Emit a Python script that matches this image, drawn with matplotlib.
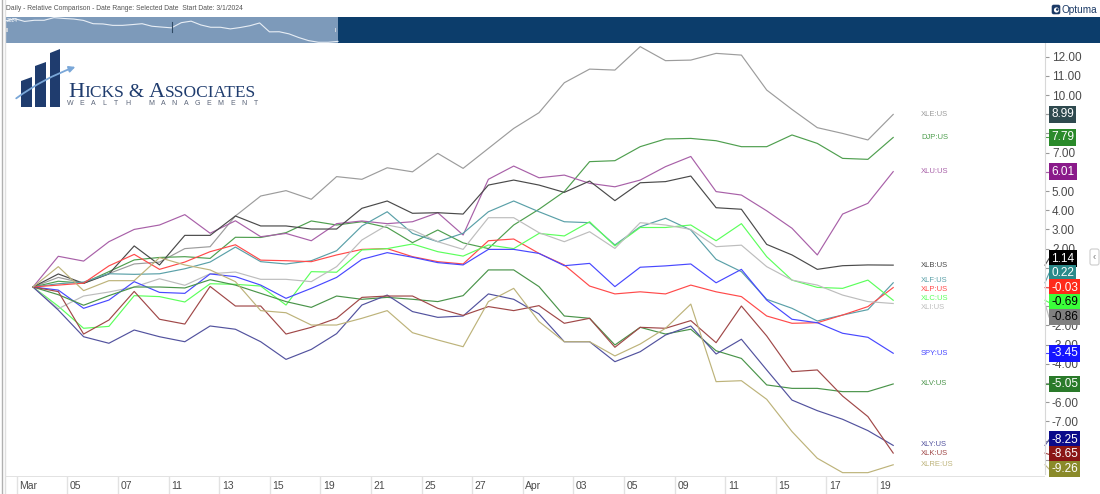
import numpy as np
import pandas as pd
import matplotlib
matplotlib.use('Agg')
import matplotlib.pyplot as plt
from matplotlib.patches import Rectangle, Polygon, Circle, FancyBboxPatch
from matplotlib.transforms import blended_transform_factory

plt.rcParams['font.family'] = ['Liberation Sans', 'DejaVu Sans']

#%% data: % change since 3/1/2024, one value per trading day (Good Friday closed)
dates = pd.bdate_range('2024-03-01', '2024-04-19').drop(pd.Timestamp('2024-03-29'))
x_labels = ['Mar', '05', '07', '11', '13', '15', '19', '21', '25', '27',
            'Apr', '03', '05', '09', '11', '15', '17', '19']

tickers = ['XLE', 'DJP', 'XLU', 'XLB', 'XLF', 'XLP', 'XLC', 'XLI', 'SPY', 'XLV', 'XLY', 'XLK', 'XLRE']

xle = [0, 0.5, 0.2, 0.7, 1.2, 1.3, 2.0, 2.1, 3.7, 4.74, 5.02, 4.57, 5.75, 5.61, 6.21, 6.0, 6.96, 6.18,
       7.22, 8.26, 9.08, 10.64, 11.35, 11.3, 12.52, 11.79, 11.82, 12.17, 12.08, 10.26, 9.25, 8.3, 8.0, 7.66, 8.99]
djp = [0, 0.3, 0.2, 0.8, 1.41, 1.54, 1.58, 1.49, 2.59, 2.58, 2.83, 3.44, 3.23, 3.4, 3.1, 2.31, 2.97, 2.3,
       2.0, 3.23, 4.05, 4.97, 6.53, 6.58, 7.31, 7.71, 7.74, 7.62, 7.31, 7.31, 7.92, 7.48, 6.7, 6.65, 7.79]
xlu = [0, 1.6, 1.35, 2.36, 3.0, 3.23, 3.77, 2.8, 3.45, 2.62, 2.79, 2.41, 3.3, 3.44, 3.3, 3.4, 3.87, 2.71,
       5.61, 6.3, 5.69, 5.83, 5.4, 5.22, 5.57, 6.27, 6.8, 4.97, 4.79, 3.97, 3.06, 1.67, 3.8, 4.36, 6.01]
xlb = [0, 0.68, 0.19, 0.68, 2.14, 1.15, 2.69, 2.69, 3.7, 3.18, 3.18, 3.02, 3.02, 4.1, 4.48, 3.84, 3.87, 3.8,
       5.31, 5.57, 5.31, 4.93, 5.52, 4.5, 5.43, 5.49, 5.78, 4.13, 4.05, 2.22, 1.67, 0.92, 1.11, 1.15, 1.14]
xlf = [0, 0.17, 0.26, 0.69, 0.66, 0.69, 0.95, 1.3, 2.08, 1.32, 1.2, 1.37, 1.89, 3.18, 3.92, 2.79, 2.36, 2.8,
       3.92, 4.48, 3.92, 3.4, 3.35, 2.19, 3.14, 3.58, 2.97, 1.44, 0.8, -0.64, -1.11, -1.77, -1.46, -1.18, 0.22]
xlp = [0, 0.1, 0.2, 1.1, 1.7, 0.92, 1.3, 1.84, 2.2, 1.4, 1.37, 1.32, 1.67, 1.96, 2.0, 1.58, 1.32, 1.2,
       2.41, 2.5, 1.75, 1.15, 0.05, -0.36, -0.25, -0.36, 0.1, -0.25, -0.5, -1.51, -1.89, -1.86, -1.46, -1.02, -0.03]
xlc = [0, -1.0, -2.15, -2.05, -0.45, -0.5, -0.78, 0.17, 0.14, 0.05, -0.94, 0.8, 0.77, 1.93, 2.0, 2.24, 1.84, 1.61,
       2.19, 2.0, 2.79, 2.66, 3.4, 2.14, 3.1, 3.1, 3.23, 2.41, 3.3, 1.58, 0.36, -0.02, -0.07, 0.36, -0.69]
xli = [0, -1.13, -0.47, -0.26, 0.0, 0.43, 0.09, 0.69, 0.78, 0.4, 0.4, 0.28, 1.06, 2.45, 3.23, 2.97, 2.36, 1.96,
       3.61, 3.61, 2.83, 2.36, 2.88, 2.01, 3.35, 3.23, 3.0, 2.1, 2.18, 1.06, 0.36, 0.1, -0.42, -0.76, -0.86]
spy = [0, -0.16, -1.11, -0.68, 0.28, -0.28, -0.33, 0.68, 0.54, 0.1, -0.59, -0.07, 0.5, 1.44, 1.79, 1.55, 1.27, 1.15,
       1.96, 1.96, 1.75, 1.11, 1.23, 0.02, 1.03, 1.1, 1.2, 0.22, 0.92, -0.68, -1.68, -1.86, -2.41, -2.62, -3.45]
xlv = [0, -0.4, -0.95, -0.45, 0.0, 0.0, -0.05, 0.38, 0.1, -0.33, -0.76, -1.06, -0.47, -0.64, -0.54, -0.64, -0.76, -0.45,
       0.89, 0.89, 0.02, -1.51, -1.63, -3.02, -2.1, -2.45, -2.2, -3.32, -3.72, -5.1, -5.28, -5.28, -5.45, -5.45, -5.05]
xly = [0, -1.2, -2.59, -2.93, -2.24, -2.59, -2.85, -2.03, -2.2, -2.85, -3.77, -3.25, -2.43, -0.94, -0.42, -1.28, -1.58, -1.51,
       -0.36, -0.64, -1.4, -2.85, -2.85, -3.89, -3.37, -2.5, -2.03, -3.49, -2.72, -4.32, -5.89, -6.44, -6.89, -7.48, -8.25]
xlk = [0, -0.24, -2.45, -1.72, -0.23, -1.68, -1.93, 0.03, -0.99, -0.99, -2.45, -2.1, -1.63, -0.54, -0.47, -0.47, -1.11, -1.48,
       -1.02, -1.23, -0.97, -1.89, -1.63, -3.14, -2.1, -2.15, -1.75, -2.9, -0.99, -2.55, -4.41, -4.32, -5.68, -6.75, -8.65]
xlre = [0, 1.06, -0.19, 0.33, 0.33, 1.53, 1.15, 0.89, 0.28, -1.23, -1.34, -1.98, -1.98, -1.63, -1.23, -2.38, -2.76, -3.11,
        -0.76, -0.07, -1.8, -2.85, -2.85, -3.59, -2.97, -2.15, -0.89, -4.93, -4.88, -5.85, -7.53, -8.92, -9.67, -9.67, -9.26]

series = [xle, djp, xlu, xlb, xlf, xlp, xlc, xli, spy, xlv, xly, xlk, xlre]

line_colors = ['#9c9c9c', '#4f9f4f', '#a860a8', '#4a4a4a', '#5aa0a8', '#ff4a4a', '#5cff5c',
               '#bdbdbd', '#4848ff', '#4a944a', '#52529e', '#a04848', '#bdb37a']
box_colors = ['#2f4a4f', '#2a8a2a', '#8a1a8a', '#000000', '#2a8a8a', '#ff2a1a', '#3aff3a',
              '#7f7f7f', '#1515ff', '#2a7a2a', '#0a0a8a', '#8a1515', '#8a8a2a']
box_text = ['white', 'white', 'white', 'white', 'white', 'white', 'black',
            'black', 'white', 'white', 'white', 'white', 'white']


def spread(vals, gap):
    # push labels apart, keeping each overlapping group centred on its values
    idx = sorted(range(len(vals)), key=lambda k: -vals[k])
    groups = [[k] for k in idx]

    def pos(g):
        c = sum(vals[k] for k in g) / len(g)
        return [c + ((len(g) - 1) / 2 - j) * gap for j in range(len(g))]

    changed = True
    while changed:
        changed = False
        for a in range(len(groups) - 1):
            if pos(groups[a])[-1] - pos(groups[a + 1])[0] < gap:
                groups[a] = groups[a] + groups.pop(a + 1)
                changed = True
                break
    out = [0] * len(vals)
    for g in groups:
        for k, p in zip(g, pos(g)):
            out[k] = p
    return out


#%% layout in pixels
W, H = 1100, 494
def px(x0, y0, x1, y1):
    return [x0 / W, 1 - y1 / H, (x1 - x0) / W, (y1 - y0) / H]

fig = plt.figure(figsize=(11, 4.94), dpi=100)
fig.patch.set_facecolor('white')

ax = fig.add_axes(px(6, 43, 1045, 474))
strip = fig.add_axes(px(6, 476, 1045, 494), sharex=ax)

x = np.arange(len(dates))
step = 25.3  # pixels per trading day
ax.set_xlim((6 - 33) / step, (1045 - 33) / step)
ax.set_ylim(-9.74, 12.71)

for vals, c in zip(series, line_colors):
    ax.plot(x, vals, color=c, lw=0.85)

last = [v[-1] for v in series]
box_pos = spread(last, 14.6 / 19.2)
name_pos = spread(last, 9.0 / 19.2)

# y axis on the right; labels hidden where a value box sits on top of them
yt = np.arange(-9, 13)
ax.set_yticks(yt)
ax.set_yticklabels(['%.2f' % t if min(abs(t - p) for p in box_pos) > 0.35 else '' for t in yt])
ax.yaxis.tick_right()
ax.tick_params(axis='y', length=3, color='#999999', labelsize=8.5, labelcolor='#4a4a4a', pad=2)
ax.tick_params(axis='x', bottom=False, labelbottom=False)
for s in ['top', 'left', 'bottom']:
    ax.spines[s].set_visible(False)
ax.spines['right'].set_color('#d8d8d8')

# last value boxes and names
tr = blended_transform_factory(ax.transAxes, ax.transData)
bx = (1049 - 6) / (1045 - 6)
for k, t in enumerate(tickers):
    ax.plot([1.0, bx], [last[k], box_pos[k]], transform=tr, color=line_colors[k],
            lw=0.8, clip_on=False)
    ax.text(bx + 0.002, box_pos[k], '%.2f' % last[k], transform=tr, fontsize=8.5,
            color=box_text[k], va='center', ha='left', zorder=5,
            bbox=dict(boxstyle='square,pad=0.2', fc=box_colors[k], ec='none'))
    ax.text(x[-1] + 1.1, name_pos[k], t + ':US', fontsize=5.5, color=line_colors[k],
            va='center', ha='left')

# date strip
strip.set_ylim(0, 1)
strip.axis('off')
strip.axhline(1, color='#dddddd', lw=1.2)
for i, lab in zip(x[::2], x_labels):
    strip.axvline(i - 0.64, color='#e2e2e2', lw=1)
    strip.text(i - 0.54, 0.45, lab, fontsize=7.5, color='#4a4a4a', va='center', ha='left')

#%% decorations drawn in pixel coordinates
over = fig.add_axes([0, 0, 1, 1], zorder=10)
over.set_xlim(0, W)
over.set_ylim(H, 0)
over.axis('off')
over.patch.set_alpha(0)

over.plot([1.5, 1.5], [0, H], color='#b0b0b0', lw=1)
over.plot([5, 5], [0, H], color='#e0e0e0', lw=1)

over.text(6, 8, 'Daily - Relative Comparison - Date Range: Selected Date  Start Date: 3/1/2024',
          fontsize=4.9, color='#555555', va='center', ha='left')

over.add_patch(Rectangle((5, 17), 333, 26, fc='#7d9aba', ec='none'))
over.add_patch(Rectangle((338, 17), W - 338, 26, fc='#0c3d6b', ec='none'))
nav_x = 5 + x / x[-1] * 333
nav_y = np.clip(21 - np.array(xlre) * 2.2, 17, 43)
over.plot(nav_x, nav_y, color='#e8eef5', lw=0.8)
over.text(7, 21, '2024', fontsize=3.5, color='white', va='center')
over.plot([172, 172], [22, 32], color='#304a64', lw=0.8)
over.add_patch(Rectangle((6, 28), 1.5, 4, fc='#c8d0da', ec='none'))
over.add_patch(Rectangle((334.5, 28), 1.5, 4, fc='#c8d0da', ec='none'))

# Optuma logo
over.add_patch(FancyBboxPatch((1052, 5), 8, 9, boxstyle='round,pad=0.3,rounding_size=2',
                              fc='#1b3a66', ec='none'))
over.add_patch(Circle((1056.5, 10), 2.6, fc='white', ec='none'))
over.add_patch(Circle((1057.3, 9.5), 1.3, fc='#1b3a66', ec='none'))
over.text(1061, 10, 'Optuma', fontsize=7.2, color='#1b3a66', va='center', ha='left')

# collapse button on the right
over.add_patch(FancyBboxPatch((1090, 249), 9, 16, boxstyle='round,pad=0,rounding_size=2',
                              fc='white', ec='#cccccc', lw=0.8))
over.text(1094.5, 257, '\u2039', fontsize=7, color='#777777', va='center', ha='center')

# company logo
navy = '#1f3c6e'
over.add_patch(Polygon([(21, 107), (21, 81), (32, 77), (32, 107)], fc=navy, ec='none'))
over.add_patch(Polygon([(35, 107), (35, 66), (46, 62), (46, 107)], fc=navy, ec='none'))
over.add_patch(Polygon([(50, 107), (50, 53), (60, 49), (60, 107)], fc=navy, ec='none'))
over.annotate('', xy=(78, 66), xytext=(14, 100),
              arrowprops=dict(arrowstyle='-|>', color='#7aa7d8', lw=1.3, mutation_scale=9,
                              connectionstyle='arc3,rad=-0.08'))
renderer = fig.canvas.get_renderer()
xpos = 68
for piece, size in [('H', 16), ('ICKS', 12.5), (' & ', 14), ('A', 16), ('SSOCIATES', 12.5)]:
    t = over.text(xpos, 97, piece, fontsize=size, family=['Liberation Serif', 'DejaVu Serif'],
                  color=navy, va='baseline', ha='left')
    xpos += t.get_window_extent(renderer).width
letters = 'WEALTH MANAGEMENT'
lx = 68
for ch in letters:
    if ch != ' ':
        over.text(lx + 2, 103.5, ch, fontsize=5, color='#5a6478', va='center', ha='center')
    lx += 11.6

fig.savefig('out.png', dpi=100, facecolor='white')
